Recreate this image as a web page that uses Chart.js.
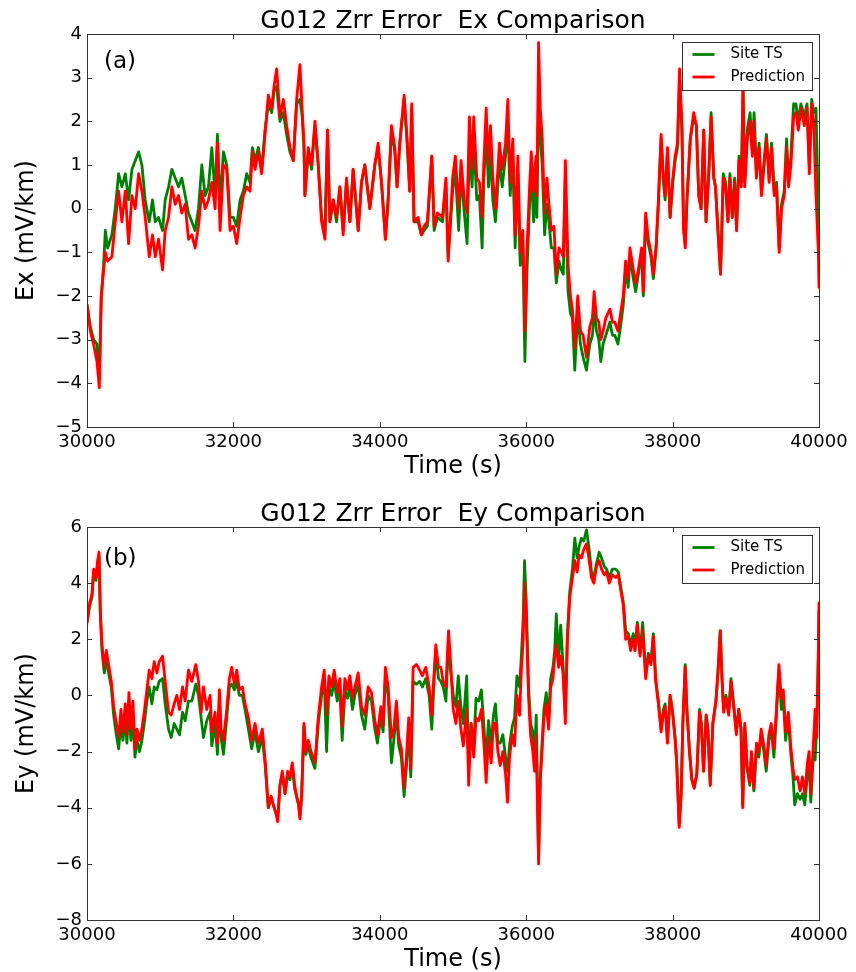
<!DOCTYPE html>
<html>
<head>
<meta charset="utf-8">
<script src="https://cdn.jsdelivr.net/npm/chart.js@4.4.1/dist/chart.umd.min.js"></script>
<style>
  html, body { margin: 0; padding: 0; background: #fff; }
  body { width: 856px; height: 972px; position: relative; overflow: hidden; }
  canvas { position: absolute; left: 0; }
  #cA { top: 0; }
  #cB { top: 493px; }
</style>
</head>
<body>
<canvas id="cA" width="856" height="479"></canvas>
<canvas id="cB" width="856" height="479"></canvas>
<script>
// ---------------- DATA ----------------
const titleA = 'G012 Zrr Error  Ex Comparison';
const titleB = 'G012 Zrr Error  Ey Comparison';
const xLabel = 'Time (s)';
const yLabelA = 'Ex (mV/km)';
const yLabelB = 'Ey (mV/km)';
const seriesNames = ['Site TS', 'Prediction'];
const xTicks = [30000, 32000, 34000, 36000, 38000, 40000];
const yTicksA = [-5, -4, -3, -2, -1, 0, 1, 2, 3, 4];
const yTicksB = [-8, -6, -4, -2, 0, 2, 4, 6];

const timeA = [30000,30045,30090,30136,30168,30195,30227,30250,30282,30340,30386,30432,30477,30523,30568,30614,30659,30705,30750,30795,30850,30895,30932,30977,31032,31068,31114,31159,31205,31250,31295,31341,31386,31432,31477,31523,31568,31614,31659,31705,31750,31782,31818,31864,31909,31955,32000,32045,32091,32136,32182,32227,32259,32295,32341,32386,32432,32477,32523,32555,32591,32636,32682,32727,32773,32818,32864,32909,32941,32964,32977,33023,33068,33114,33159,33205,33250,33286,33318,33364,33409,33455,33500,33545,33591,33636,33705,33750,33795,33864,33932,33977,34023,34077,34114,34159,34205,34236,34273,34332,34373,34409,34436,34468,34523,34568,34605,34650,34710,34742,34788,34857,34903,34934,34995,35032,35077,35110,35155,35192,35224,35261,35283,35325,35361,35398,35420,35453,35485,35512,35544,35580,35635,35672,35717,35749,35781,35817,35849,35886,35918,35954,35982,36009,36046,36069,36101,36133,36146,36169,36192,36219,36251,36283,36311,36343,36379,36411,36448,36480,36507,36535,36572,36604,36631,36663,36704,36741,36777,36823,36869,36905,36928,36960,36992,37019,37051,37088,37143,37179,37211,37253,37289,37326,37358,37394,37417,37463,37495,37532,37577,37600,37632,37668,37705,37737,37774,37806,37843,37875,37898,37930,37966,38003,38035,38067,38095,38127,38150,38173,38196,38242,38288,38325,38357,38389,38425,38457,38494,38526,38563,38586,38623,38655,38692,38724,38756,38783,38815,38847,38874,38907,38939,38962,38985,39021,39058,39090,39113,39145,39182,39214,39250,39282,39319,39351,39388,39420,39456,39488,39525,39557,39584,39616,39653,39685,39717,39753,39799,39836,39868,39900,39927,39959,39991,40000];
const predA = [-2.2,-2.8,-3.1,-3.5,-4.1,-2.0,-1.4,-1.0,-1.2,-1.1,-0.3,0.4,-0.3,0.4,-0.8,0.3,0.0,0.8,0.4,-0.2,-1.1,-0.6,-1.1,-0.7,-1.4,-0.5,-0.2,0.5,0.1,0.3,-0.1,0.1,-0.7,-0.6,-0.9,-0.4,0.4,0.0,0.2,0.6,0.0,1.5,-0.5,1.0,0.9,-0.5,-0.4,-0.8,-0.2,0.3,0.5,0.4,1.3,0.9,1.3,0.8,1.7,2.6,2.3,2.8,3.2,2.1,2.5,1.9,1.4,1.1,2.5,3.3,2.2,1.5,0.3,1.4,1.0,2.0,1.0,-0.3,-0.7,1.8,-0.3,0.2,-0.2,0.5,-0.6,0.7,-0.3,0.9,-0.5,0.6,1.0,0.0,1.0,1.5,0.6,-0.7,0.2,1.9,1.4,0.5,1.5,2.6,1.6,0.4,2.4,-0.3,-0.2,-0.6,-0.4,-0.3,1.2,-0.4,-0.1,-0.2,0.7,-1.2,0.7,1.2,0.0,1.1,0.2,-0.1,2.1,0.9,2.1,0.7,0.6,-0.2,1.0,2.3,1.0,1.9,0.7,0.0,1.5,0.9,1.5,2.5,0.6,1.6,-0.6,1.2,-1.0,-0.5,-2.8,-1.0,0.5,1.3,0.4,1.2,0.3,3.8,2.3,1.6,-0.1,0.7,0.1,-0.5,-0.4,-1.5,-0.9,-1.0,-1.1,1.1,-1.3,-2.0,-2.3,-3.2,-2.0,-2.8,-2.9,-3.4,-2.7,-2.5,-1.9,-2.5,-2.6,-3.0,-2.8,-2.5,-2.3,-2.6,-2.6,-2.8,-2.4,-2.0,-1.2,-1.6,-0.9,-1.4,-1.7,-1.4,-0.9,-1.9,-0.1,-0.7,-1.0,-1.5,-0.9,0.2,1.7,0.7,0.3,1.4,-0.2,0.7,1.2,1.5,3.2,1.9,-0.5,-0.9,0.2,1.6,2.2,1.9,0.3,0.0,1.8,-0.3,0.8,2.1,0.7,0.5,-0.6,-1.5,0.7,0.5,-0.3,0.7,-0.2,0.6,-0.5,1.1,0.5,2.7,0.5,1.6,2.0,1.2,2.0,0.7,1.4,0.3,1.0,1.6,0.6,1.4,0.3,0.5,-1.0,0.0,0.3,1.4,0.5,1.0,2.1,2.2,1.8,2.3,1.9,2.3,0.8,2.4,2.0,0.3,-1.0,-1.8];
const siteA = [-2.2,-2.7,-3.0,-3.1,-3.9,-2.0,-1.3,-0.5,-0.9,-0.6,0.0,0.8,0.5,0.8,0.2,0.9,1.1,1.3,1.0,0.2,-0.3,0.2,-0.3,-0.2,-0.5,0.2,0.5,0.9,0.7,0.5,0.7,0.3,-0.1,-0.3,-0.5,0.0,1.0,0.3,0.5,1.4,0.3,1.7,0.1,1.3,1.0,-0.2,-0.2,-0.4,0.2,0.4,0.8,0.6,1.4,1.1,1.4,0.9,1.8,2.4,2.2,2.7,2.8,2.0,2.2,1.7,1.3,1.1,2.4,2.5,2.1,1.4,0.3,1.3,0.9,1.9,1.0,-0.2,-0.6,1.8,-0.3,0.2,-0.3,0.5,-0.5,0.6,-0.3,0.9,-0.5,0.6,1.0,0.0,1.0,1.4,0.6,-0.7,0.2,1.8,1.3,0.5,1.5,2.5,1.5,0.4,2.3,-0.3,-0.3,-0.6,-0.5,-0.4,1.2,-0.5,-0.2,-0.3,0.6,-1.1,0.4,0.9,-0.5,0.8,-0.1,-0.8,1.4,0.5,1.6,0.2,0.3,-0.9,0.6,1.8,0.5,1.3,0.2,-0.3,1.1,0.5,1.2,1.9,0.3,1.2,-0.9,0.8,-1.3,-0.8,-3.5,-1.5,0.1,0.9,-0.3,0.7,-0.2,2.6,1.6,1.0,-0.6,0.1,-0.3,-0.9,-0.9,-1.7,-1.2,-1.4,-1.5,0.7,-1.9,-2.4,-2.5,-3.7,-2.4,-3.1,-3.4,-3.7,-3.1,-2.9,-2.3,-2.8,-3.0,-3.5,-3.1,-2.9,-2.6,-2.9,-2.9,-3.1,-2.7,-2.2,-1.4,-1.8,-1.1,-1.6,-1.9,-1.5,-1.0,-2.0,-0.2,-0.8,-1.1,-1.6,-0.9,0.1,1.6,0.6,0.2,1.3,-0.2,0.6,1.1,1.4,3.0,1.8,-0.4,-0.8,0.2,1.6,2.1,1.9,0.3,0.0,1.8,-0.3,0.8,2.2,0.7,0.5,-0.6,-1.5,0.8,0.6,-0.3,0.8,-0.2,0.7,-0.5,1.2,0.6,2.8,0.6,1.8,2.2,1.3,2.2,0.8,1.5,0.4,1.1,1.7,0.7,1.5,0.4,0.6,-0.9,0.1,0.4,1.6,0.6,1.2,2.4,2.4,2.0,2.4,2.1,2.4,1.0,2.5,2.2,2.3,0.0,-0.8];

const timeB = [30000,30036,30068,30091,30123,30145,30164,30182,30205,30236,30264,30295,30332,30364,30395,30432,30464,30491,30523,30545,30573,30600,30627,30655,30682,30718,30750,30782,30818,30850,30886,30918,30955,30986,31032,31068,31114,31150,31191,31227,31264,31305,31341,31386,31432,31486,31523,31559,31591,31636,31682,31705,31750,31782,31809,31832,31864,31909,31945,31977,32014,32045,32082,32123,32159,32205,32250,32295,32341,32395,32432,32477,32514,32545,32582,32605,32636,32668,32705,32741,32773,32805,32836,32864,32891,32909,32932,32964,32991,33023,33059,33114,33159,33205,33241,33273,33305,33341,33377,33418,33455,33486,33523,33559,33591,33627,33659,33705,33750,33795,33841,33886,33932,33968,34014,34045,34077,34114,34159,34191,34227,34259,34295,34332,34364,34395,34423,34455,34500,34545,34582,34628,34674,34710,34742,34765,34802,34834,34866,34903,34939,34971,35003,35040,35072,35104,35141,35187,35214,35247,35283,35315,35352,35388,35420,35453,35485,35521,35553,35580,35613,35645,35681,35718,35745,35772,35809,35841,35873,35909,35932,35959,35977,36000,36032,36059,36091,36114,36137,36169,36192,36215,36242,36274,36306,36334,36366,36389,36411,36443,36471,36503,36535,36563,36595,36632,36664,36696,36723,36755,36787,36823,36856,36892,36924,36960,36997,37029,37066,37098,37135,37176,37222,37258,37295,37327,37359,37395,37427,37463,37486,37518,37555,37591,37632,37669,37705,37737,37769,37806,37843,37875,37898,37930,37966,38000,38035,38057,38090,38117,38140,38172,38195,38231,38263,38295,38331,38368,38391,38423,38459,38482,38514,38550,38592,38619,38651,38674,38697,38729,38766,38798,38834,38871,38903,38935,38958,38986,39018,39055,39077,39110,39146,39178,39210,39247,39279,39315,39347,39384,39416,39452,39485,39512,39544,39581,39613,39645,39668,39705,39742,39774,39806,39842,39865,39888,39920,39947,39970,39993,40000];
const predB = [2.6,3.3,3.6,4.5,4.2,4.8,5.1,3.0,1.8,1.0,1.6,1.1,0.5,-0.4,-0.9,-1.5,-0.5,-1.3,-0.3,-1.4,0.1,-1.2,-0.2,-1.9,-1.2,-1.6,-1.2,-0.6,0.2,0.9,0.6,1.2,0.8,1.2,1.4,0.5,-0.6,-0.7,-0.3,0.0,-0.5,0.3,-0.2,0.9,0.5,1.1,0.5,-0.6,0.3,-0.5,0.0,-1.3,-0.6,-1.7,0.2,-1.2,-1.6,-0.5,0.6,1.0,0.4,0.9,0.2,0.3,-0.3,-0.8,-1.6,-1.0,-1.7,-1.2,-2.3,-4.0,-3.6,-3.9,-4.2,-4.5,-3.2,-2.7,-3.5,-2.7,-2.9,-2.4,-3.2,-3.6,-3.9,-4.4,-3.6,-1.0,-2.0,-1.6,-2.0,-2.4,-0.8,0.3,0.9,-0.7,0.7,0.3,0.9,0.1,0.6,-1.1,0.6,0.2,0.7,-0.1,0.3,0.8,-0.4,-0.7,0.3,0.1,-0.9,-1.4,-0.4,-1.1,1.0,0.3,-1.5,-1.2,-0.2,-1.5,-1.9,-3.3,-2.2,-0.8,-2.6,1.0,1.1,0.9,0.7,1.0,0.3,-0.7,0.8,1.8,1.0,1.0,0.5,0.3,2.3,1.0,-0.5,-1.0,-0.2,-1.1,-1.8,-0.5,-3.2,-1.0,-2.2,-0.8,-0.9,-0.5,-1.6,-3.1,-1.5,-2.4,-1.0,-1.0,-2.0,-2.5,-2.0,-2.8,-3.8,-2.2,-1.4,-1.8,0.0,-0.7,0.8,2.0,4.0,2.8,0.0,-1.4,-2.0,-2.7,-1.4,-6.0,-3.0,-2.0,-0.8,-0.3,-1.2,0.3,0.6,1.4,1.8,1.0,1.4,0.8,-1.0,2.0,3.5,4.2,4.8,4.4,5.0,4.9,5.2,5.4,4.9,4.2,4.0,4.6,4.8,4.5,4.3,4.4,4.0,4.3,4.2,4.3,3.7,3.2,2.0,2.1,1.6,2.0,1.6,2.5,1.4,2.3,0.6,1.4,1.1,2.1,0.5,-0.3,-1.3,-0.6,-0.4,-1.7,0.0,-0.6,-1.6,-2.5,-4.7,-3.5,-1.0,1.0,-0.5,-2.0,-3.0,-3.3,-2.8,-0.6,-1.0,-2.7,-0.7,-1.2,-3.2,-1.0,-0.2,0.8,2.3,0.6,-0.6,-0.1,-0.7,0.5,-0.4,-1.4,-0.5,-1.2,-4.0,-1.0,-2.5,-3.1,-2.0,-3.3,-1.7,-2.0,-1.2,-1.8,-2.5,-1.4,-1.0,-1.9,-0.6,1.1,-0.1,0.2,-1.3,-0.6,-1.8,-2.6,-3.0,-2.9,-3.4,-2.9,-3.5,-2.4,-2.0,-3.5,-1.9,-0.5,-1.5,2.0,3.3];
const siteB = [2.6,3.2,3.5,4.4,4.1,4.7,5.0,2.9,1.6,0.8,1.3,0.8,0.3,-0.7,-1.3,-1.9,-1.0,-1.6,-0.8,-1.7,-0.4,-1.6,-0.7,-2.2,-1.6,-2.0,-1.6,-1.0,-0.2,0.3,-0.3,0.3,0.2,0.5,0.6,-0.3,-1.2,-1.5,-1.0,-1.2,-1.4,-0.6,-0.9,-0.2,-0.2,0.4,0.0,-0.8,-1.5,-0.9,-0.6,-1.8,-1.0,-2.1,-0.1,-1.5,-2.1,-0.8,0.3,0.4,0.2,0.5,0.0,0.0,-0.5,-1.2,-1.9,-1.3,-2.0,-1.5,-2.4,-4.0,-3.6,-3.9,-4.2,-4.4,-3.2,-2.8,-3.5,-2.8,-3.0,-2.5,-3.3,-3.6,-3.9,-4.3,-3.6,-1.1,-2.1,-1.8,-2.2,-2.6,-1.0,0.0,0.6,-2.0,0.3,0.0,0.5,-0.2,0.2,-1.6,0.2,-0.1,0.3,-0.5,0.0,0.4,-0.7,-1.2,0.0,-0.2,-1.2,-1.7,-0.7,-1.3,0.7,0.0,-2.4,-1.6,-0.6,-1.8,-2.2,-3.6,-2.5,-1.1,-2.9,0.5,0.4,0.5,0.3,0.6,0.0,-1.2,0.6,1.6,0.6,0.5,0.3,-0.2,1.9,0.8,0.0,-0.4,0.7,-0.3,-1.0,0.7,-2.6,-1.0,-1.8,-0.1,-0.2,0.2,-1.0,-2.4,-0.9,-1.7,-0.7,-0.3,-1.7,-1.7,-1.4,-2.2,-2.7,-1.8,-1.1,-0.8,0.7,0.3,1.3,2.7,4.8,3.4,0.3,-1.0,-1.3,-2.2,-0.7,-5.8,-3.0,-1.8,-0.5,0.1,-0.9,0.6,1.0,1.6,2.9,1.3,2.5,1.1,-0.7,2.2,3.7,4.5,5.6,4.9,5.3,5.6,5.5,5.9,5.3,4.4,4.2,4.7,5.1,4.9,4.6,4.5,4.2,4.5,4.5,4.4,3.8,3.3,2.3,2.2,1.8,2.2,1.6,2.6,1.5,2.6,0.8,1.5,1.2,2.2,0.6,-0.2,-1.2,-0.5,-0.3,-1.6,0.0,-0.6,-1.5,-2.4,-4.6,-3.5,-1.0,1.1,-0.5,-2.0,-3.0,-3.3,-2.8,-0.5,-1.0,-2.7,-0.7,-1.2,-3.2,-1.0,-0.2,0.8,2.3,0.7,-0.5,0.0,-0.6,0.6,-0.3,-1.3,-0.5,-1.2,-3.9,-1.1,-2.6,-3.2,-2.1,-3.4,-1.9,-2.2,-1.4,-2.0,-2.7,-1.6,-1.2,-2.2,-0.8,0.9,-0.5,-0.1,-1.6,-0.8,-2.0,-2.9,-3.9,-3.5,-3.7,-3.5,-3.9,-2.8,-2.4,-3.8,-2.2,-2.3,-1.0,1.5,3.0];

// ---------------- STYLE ----------------
const FONT = "'DejaVu Sans', 'Liberation Sans', sans-serif";
Chart.defaults.font.family = FONT;
Chart.defaults.color = '#000';
const GREEN = '#008000';
const RED = '#ff0000';
const FRAME = '#333333';

function pts(t, v) { return t.map((x, i) => ({ x: x, y: v[i] })); }
function fmt(v) { return String(v).replace('-', '\u2212'); }

const framePlugin = {
  id: 'frameTicks',
  afterDatasetsDraw(chart, args, opts) {
    const ctx = chart.ctx, a = chart.chartArea;
    const xs = chart.scales.x, ys = chart.scales.y;
    const L = 5;
    ctx.save();
    ctx.strokeStyle = FRAME;
    ctx.lineWidth = 1;
    ctx.beginPath();
    xs.ticks.forEach(t => {
      const px = Math.round(xs.getPixelForValue(t.value)) + 0.5;
      ctx.moveTo(px, a.bottom); ctx.lineTo(px, a.bottom - L);
      ctx.moveTo(px, a.top); ctx.lineTo(px, a.top + L);
    });
    ys.ticks.forEach(t => {
      const py = Math.round(ys.getPixelForValue(t.value)) + 0.5;
      ctx.moveTo(a.left, py); ctx.lineTo(a.left + L, py);
      ctx.moveTo(a.right, py); ctx.lineTo(a.right - L, py);
    });
    ctx.stroke();
    ctx.strokeRect(Math.round(a.left) + 0.5, Math.round(a.top) + 0.5,
                   Math.round(a.right - a.left), Math.round(a.bottom - a.top));
    ctx.restore();
  },
  afterDraw(chart, args, opts) {
    const ctx = chart.ctx, a = chart.chartArea;
    ctx.save();
    // panel tag
    ctx.font = '23px ' + FONT;
    ctx.fillStyle = '#000';
    ctx.textBaseline = 'middle';
    ctx.textAlign = 'left';
    ctx.fillText(opts.tag, a.left + 17, a.top + opts.tagDy);
    // legend
    const w = 130, h = 48;
    const bx = Math.round(a.right - 7 - w) + 0.5, by = Math.round(a.top + 8) + 0.5;
    ctx.fillStyle = '#fff';
    ctx.fillRect(bx, by, w, h);
    ctx.strokeStyle = FRAME;
    ctx.lineWidth = 1;
    ctx.strokeRect(bx, by, w, h);
    const items = chart.data.datasets.filter(d => d.legendItem);
    items.sort((p, q) => p.legendItem - q.legendItem);
    ctx.font = '15px ' + FONT;
    items.forEach((d, i) => {
      const y = by + 12 + i * 22.5;
      ctx.strokeStyle = d.borderColor;
      ctx.lineWidth = 2.8;
      ctx.beginPath();
      ctx.moveTo(bx + 10, y); ctx.lineTo(bx + 32, y);
      ctx.stroke();
      ctx.fillStyle = '#000';
      ctx.fillText(d.label, bx + 48, y);
    });
    ctx.restore();
  }
};

function makeChart(id, title, yLabel, time, site, pred, yTicks, tag, tagDy) {
  const ymin = yTicks[0], ymax = yTicks[yTicks.length - 1];
  return new Chart(document.getElementById(id), {
    type: 'line',
    data: {
      datasets: [
        { label: seriesNames[1], data: pts(time, pred), borderColor: RED, borderWidth: 2.8,
          order: 0, legendItem: 2 },
        { label: seriesNames[0], data: pts(time, site), borderColor: GREEN, borderWidth: 2.8,
          order: 1, legendItem: 1 },
        { label: 'error band', data: pts(time, pred), borderColor: 'rgba(255,0,0,0.06)', borderWidth: 7,
          order: 2 }
      ]
    },
    options: {
      responsive: false,
      animation: false,
      devicePixelRatio: 1,
      events: [],
      elements: { point: { radius: 0 }, line: { tension: 0, borderJoinStyle: 'round', borderCapStyle: 'round' } },
      layout: { padding: { left: 0, right: 37, top: 0, bottom: 0 } },
      plugins: {
        legend: { display: false },
        tooltip: { enabled: false },
        title: {
          display: true, text: title, color: '#000', fullSize: false,
          font: { family: FONT, size: 25, weight: 'normal', lineHeight: 1 },
          padding: { top: 9, bottom: 0 }
        },
        frameTicks: { tag: tag, tagDy: tagDy }
      },
      scales: {
        x: {
          type: 'linear', min: xTicks[0], max: xTicks[xTicks.length - 1],
          afterBuildTicks: s => { s.ticks = xTicks.map(v => ({ value: v })); },
          ticks: { callback: v => String(v), font: { family: FONT, size: 18 }, color: '#000',
                   padding: 5, maxRotation: 0, autoSkip: false },
          grid: { display: false, drawTicks: false },
          border: { display: false },
          title: { display: true, text: xLabel, color: '#000',
                   font: { family: FONT, size: 24, lineHeight: 1 }, padding: { top: 0, bottom: 0 } },
          afterFit: s => { s.height = 52; }
        },
        y: {
          type: 'linear', min: ymin, max: ymax,
          afterBuildTicks: s => { s.ticks = yTicks.map(v => ({ value: v })); },
          ticks: { callback: v => fmt(v), font: { family: FONT, size: 18 }, color: '#000',
                   padding: 5, autoSkip: false },
          grid: { display: false, drawTicks: false },
          border: { display: false },
          title: { display: true, text: yLabel, color: '#000',
                   font: { family: FONT, size: 24, lineHeight: 1 }, padding: { top: 15, bottom: 0 } },
          afterFit: s => { s.width = 87; }
        }
      }
    },
    plugins: [framePlugin]
  });
}

makeChart('cA', titleA, yLabelA, timeA, siteA, predA, yTicksA, '(a)', 28);
makeChart('cB', titleB, yLabelB, timeB, siteB, predB, yTicksB, '(b)', 32);
</script>
</body>
</html>
